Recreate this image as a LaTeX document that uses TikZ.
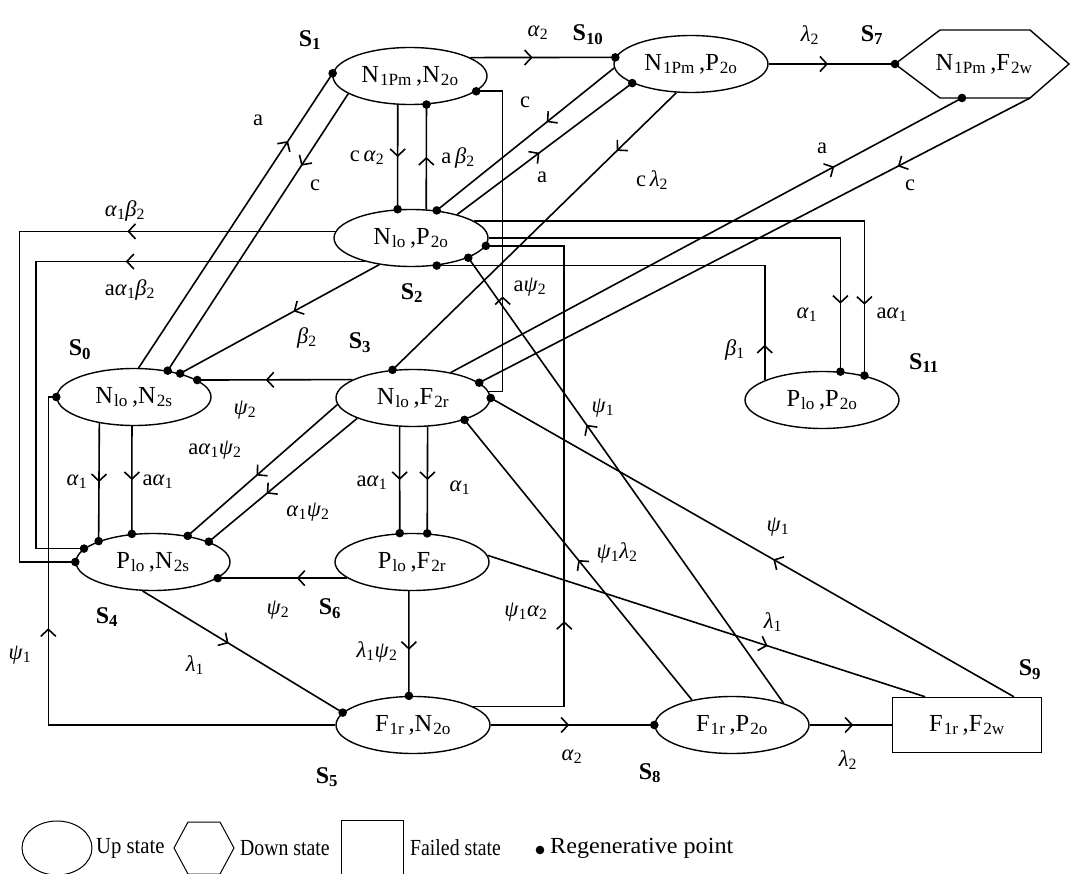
\documentclass[tikz,border=0pt]{standalone}
\usepackage{fontspec}
\setmainfont{Liberation Serif}
\usetikzlibrary{shapes.geometric,arrows.meta,decorations.markings}
\newcommand{\nfont}{\fontsize{24.5}{28}\selectfont}
\newcommand{\lfont}{\fontsize{22.5}{26}\selectfont}
\newcommand{\sfontx}{\fontsize{24}{28}\selectfont\bfseries}
\newcommand{\gfont}{\fontsize{23}{27}\selectfont}
\newcommand{\xal}[1]{\textit{α}\textsubscript{#1}}
\newcommand{\xbe}[1]{\textit{β}\textsubscript{#1}}
\newcommand{\xps}[1]{\textit{ψ}\textsubscript{#1}}
\newcommand{\xla}[1]{\textit{λ}\textsubscript{#1}}
\newcommand{\rdot}[1]{\fill (#1) circle[radius=4.3pt];}
\newcommand{\xsb}[1]{\kern1pt\textsubscript{#1}}
\begin{document}
\begin{tikzpicture}[x=1pt,y=-1pt,
  st/.style={ellipse, draw, line width=1.4pt, minimum width=154pt, minimum height=57pt, inner sep=0pt, font=\nfont},
  fs/.style={rectangle, draw, line width=1.4pt, minimum width=149pt, minimum height=55pt, inner sep=0pt, font=\nfont},
  ln/.style={line width=1.6pt},
  am/.style={postaction={decorate}, decoration={markings, mark=at position #1 with {\arrow{Straight Barb[length=7pt,width=15pt,line width=1.6pt]}}}},
  sl/.style={font=\sfontx, inner sep=0pt},
  tl/.style={font=\lfont, inner sep=0pt},
  lg/.style={font=\gfont, inner sep=0pt, anchor=west}]
\useasboundingbox (0,0) rectangle (1071,874);
\fill[white] (0,0) rectangle (1071,874);

% states
\node[st] (s1) at (410,76) {N\xsb{1Pm}\,,N\xsb{2o}};
\node[st] (s10) at (691,64) {N\xsb{1Pm}\,,P\xsb{2o}};
\node[st] (s2) at (411,238) {N\xsb{lo}\,,P\xsb{2o}};
\node[st] (s0) at (134,397) {N\xsb{lo}\,,N\xsb{2s}};
\node[st] (s3) at (413,398) {N\xsb{lo}\,,F\xsb{2r}};
\node[st] (s11) at (822,400) {P\xsb{lo}\,,P\xsb{2o}};
\node[st] (s4) at (153,562) {P\xsb{lo}\,,N\xsb{2s}};
\node[st] (s6) at (412,562) {P\xsb{lo}\,,F\xsb{2r}};
\node[st] (s5) at (413,725) {F\xsb{1r}\,,N\xsb{2o}};
\node[st] (s8) at (732,725) {F\xsb{1r}\,,P\xsb{2o}};
\node[fs] (s9) at (967,725) {F\xsb{1r}\,,F\xsb{2w}};
% hexagon S7
\coordinate (s7l) at (895,64);
\coordinate (s7tl) at (940,30);
\coordinate (s7tr) at (1030,30);
\coordinate (s7r) at (1069,64);
\coordinate (s7br) at (1030,98);
\coordinate (s7bl) at (940,98);
\coordinate (s7b) at (962,98);
\draw[line width=1.4pt] (s7l) -- (s7tl) -- (s7tr) -- (s7r) -- (s7br) -- (s7bl) -- cycle;
\node[font=\nfont, inner sep=0pt] (s7) at (984,64) {N\xsb{1Pm}\,,F\xsb{2w}};

% state labels
\node[sl] (ls1) at (310,40) {S\textsubscript{1}};
\node[sl] (ls10) at (588,35) {S\textsubscript{10}};
\node[sl] (ls7) at (872,35) {S\textsubscript{7}};
\node[sl] (ls2) at (412,293) {S\textsubscript{2}};
\node[sl] (ls3) at (360,343) {S\textsubscript{3}};
\node[sl] (ls0) at (80,350) {S\textsubscript{0}};
\node[sl] (ls11) at (924,363) {S\textsubscript{11}};
\node[sl] (ls4) at (107,617) {S\textsubscript{4}};
\node[sl] (ls6) at (330,609) {S\textsubscript{6}};
\node[sl] (ls5) at (327,777) {S\textsubscript{5}};
\node[sl] (ls8) at (650,773) {S\textsubscript{8}};
\node[sl] (ls9) at (1030,670) {S\textsubscript{9}};

% connectors
\draw[ln,am=0.77] (s0.81) -- (s1.178); \rdot{s1.178}
\draw[ln,am=0.26] (s1.196) -- (s0.38); \rdot{s0.38}
\draw[ln,am=0.5] (s1.247) -- (s2.115); \rdot{s2.115}
\draw[ln,am=0.5] (s2.62) -- (s1.300); \rdot{s1.300}
\draw[ln,am=0.43] (s1.17) -- (s10.175); \rdot{s10.175}
\draw[ln,am=0.47] (s10.east) -- (s7l); \rdot{s7l}
\draw[ln,am=0.47] (s2.27) -- (s10.198); \rdot{s10.198}
\draw[ln,am=0.38] (s10.183) -- (s2.47); \rdot{s2.47}
\draw[ln,am=0.21] (s10.243) -- (s3.126); \rdot{s3.126}
\draw[ln,am=0.75] (s3.34) -- (s7b); \rdot{s7b}
\draw[ln,am=0.24] (s7br) -- (s3.13); \rdot{s3.13}
\draw[ln,am=0.32] (s3.5) -- ++(14,0) |- (s1.347); \rdot{s1.347}
\draw[ln,am=0.28] (s5.17) -- ++(91,0) |- (s2.354); \rdot{s2.354}
\draw[ln,am=0.86] (s2.east) -| (s11.57); \rdot{s11.57}
\draw[ln,am=0.87] (s2.15) -| (s11.30); \rdot{s11.30}
\draw[ln,am=0.08] (s11.161) |- (s2.313); \rdot{s2.313}
\draw[ln,am=0.296] (s2.175) -- ++(-316,0) |- (s4.west); \rdot{s4.west}
\draw[ln,am=0.36] (s2.207) -- ++(-329,0) |- (s4.169); \rdot{s4.169}
\draw[ln,am=0.43] (s2.220) -- (s0.27); \rdot{s0.27}
\draw[ln,am=0.56] (s3.163) -- (s0.15); \rdot{s0.15}
\draw[ln,am=0.54] (s3.185) -- (s4.37); \rdot{s4.37}
\draw[ln,am=0.61] (s3.200) -- (s4.20); \rdot{s4.20}
\draw[ln,am=0.5] (s0.217) -- (s4.159); \rdot{s4.159}
\draw[ln,am=0.5] (s0.266) -- (s4.127); \rdot{s4.127}
\draw[ln,am=0.5] (s3.245) -- (s6.113); \rdot{s6.113}
\draw[ln,am=0.5] (s3.297) -- (s6.62); \rdot{s6.62}
\draw[ln,am=0.39] (s6.194) -- (s4.346); \rdot{s4.346}
\draw[ln,am=0.43] (s4.250) -- (s5.170); \rdot{s5.170}
\draw[ln,am=0.56] (s6.264) -- (s5.98); \rdot{s5.98}
\draw[ln,am=0.616] (s5.west) -- ++(-287,0) |- (s0.west); \rdot{s0.west}
\draw[ln,am=0.48] (s5.east) -- (s8.west); \rdot{s8.west}
\draw[ln,am=0.53] (s8.east) -- (s9.west);
\draw[ln,am=0.5] (s8.148) -- (s3.337); \rdot{s3.337}
\draw[ln,am=0.625] (s8.23) -- (s2.341); \rdot{s2.341}
\draw[ln,am=0.46] (s9.31) -- (s3.east); \rdot{s3.east}
\draw[ln,am=0.64] (s6.5) -- (s9.146);

% transition labels
\node[tl] (t1) at (538,33) {\xal{2}};
\node[tl] (t2) at (810,35) {\xla{2}};
\node[tl] (t3) at (258,120) {a};
\node[tl] (t4) at (315,185) {c};
\node[tl] (t5) at (367,158) {c\,\xal{2}};
\node[tl] (t6) at (458,158) {a\,\xbe{2}};
\node[tl] (t7) at (525,102) {c};
\node[tl] (t8) at (542,177) {a};
\node[tl] (t9) at (652,180) {c\,\xla{2}};
\node[tl] (t10) at (822,148) {a};
\node[tl] (t11) at (910,185) {c};
\node[tl] (t12) at (125,211) {\xal{1}\xbe{2}};
\node[tl] (t13) at (130,290) {a\xal{1}\xbe{2}};
\node[tl] (t14) at (307,338) {\xbe{2}};
\node[tl] (t15) at (530,287) {a\xps{2}};
\node[tl] (t16) at (807,315) {\xal{1}};
\node[tl] (t17) at (892,315) {a\xal{1}};
\node[tl] (t18) at (735,350) {\xbe{1}};
\node[tl] (t19) at (245,410) {\xps{2}};
\node[tl] (t20) at (77,482) {\xal{1}};
\node[tl] (t21) at (158,482) {a\xal{1}};
\node[tl] (t22) at (215,450) {a\xal{1}\xps{2}};
\node[tl] (t23) at (308,512) {\xal{1}\xps{2}};
\node[tl] (t24) at (372,483) {a\xal{1}};
\node[tl] (t25) at (460,488) {\xal{1}};
\node[tl] (t26) at (603,408) {\xps{1}};
\node[tl] (t27) at (617,553) {\xps{1}\xla{2}};
\node[tl] (t28) at (778,527) {\xps{1}};
\node[tl] (t29) at (773,622) {\xla{1}};
\node[tl] (t30) at (526,612) {\xps{1}\xal{2}};
\node[tl] (t31) at (278,610) {\xps{2}};
\node[tl] (t32) at (195,665) {\xla{1}};
\node[tl] (t33) at (377,652) {\xla{1}\xps{2}};
\node[tl] (t34) at (20,655) {\xps{1}};
\node[tl] (t35) at (572,757) {\xal{2}};
\node[tl] (t36) at (848,760) {\xla{2}};

% legend
\node[ellipse, draw, line width=1pt, minimum width=70pt, minimum height=54pt, inner sep=0pt] (lg1) at (57,848) {};
\node[lg] (lt1) at (96,848) {\scalebox{0.9}[1]{Up state}};
\coordinate (h1) at (174,848);
\coordinate (h2) at (188,822);
\coordinate (h3) at (220,822);
\coordinate (h4) at (234,848);
\coordinate (h5) at (220,874);
\coordinate (h6) at (188,874);
\draw[line width=1pt] (h1) -- (h2) -- (h3) -- (h4) -- (h5) -- (h6) -- cycle;
\node[lg] (lt2) at (240,848) {\scalebox{0.86}[1]{Down state}};
\node[rectangle, draw, line width=1pt, minimum width=62pt, minimum height=60pt, inner sep=0pt] (lg3) at (372,850) {};
\node[lg] (lt3) at (410,848) {\scalebox{0.86}[1]{Failed state}};
\coordinate (lgd) at (540,850);
\rdot{lgd}
\node[lg] (lt4) at (550,848) {\scalebox{1.05}[1]{Regenerative point}};
\end{tikzpicture}
\end{document}
